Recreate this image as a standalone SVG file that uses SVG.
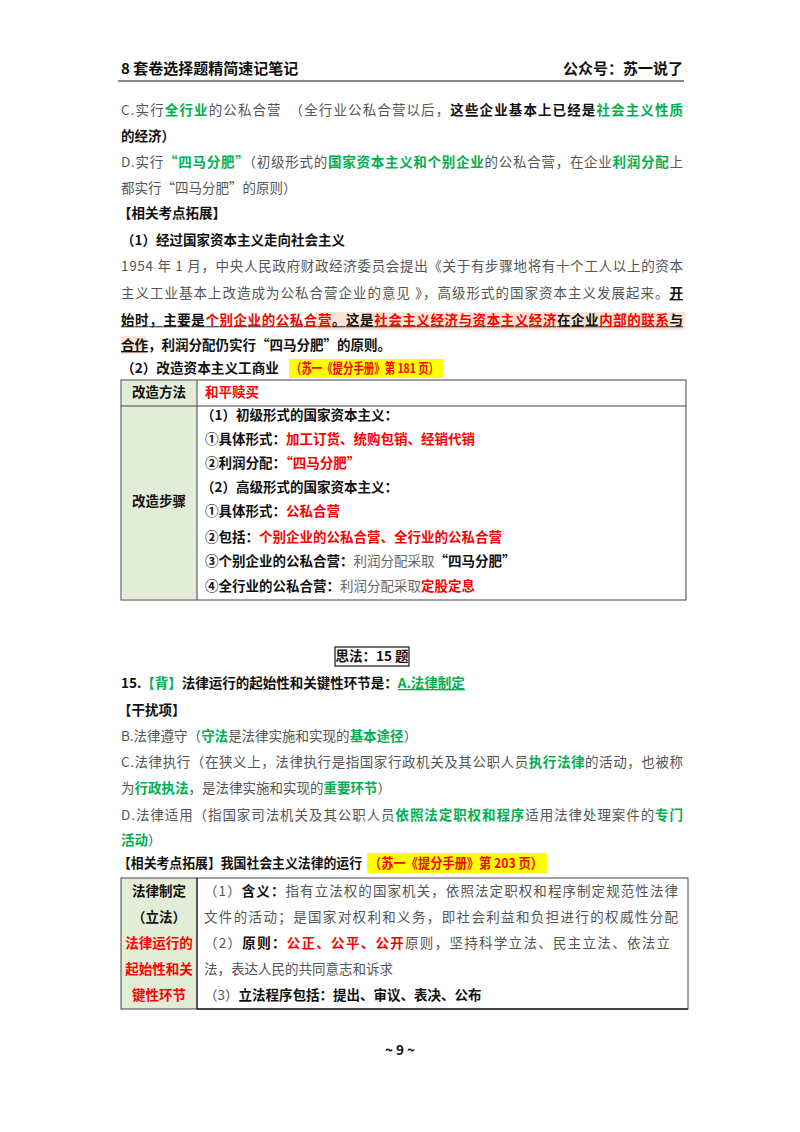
<svg xmlns="http://www.w3.org/2000/svg" width="800" height="1132" viewBox="0 0 800 1132">
<style>
text{font-family:"Noto Sans CJK SC","Liberation Serif",sans-serif;font-size:13.5px;fill:#555}
.b{font-weight:bold;fill:#111}
.g{fill:#00b050;font-weight:bold}
.r{fill:#ff0000;font-weight:bold}
.k{fill:#111;font-weight:bold}
.h{font-size:15px;font-weight:bold;fill:#111}
.ln{stroke:#444;stroke-width:1;fill:none}
</style>
<rect width="800" height="1132" fill="#fff"/>
<g id="header">
<text x="121" y="74" class="h">8 套卷选择题精简速记笔记</text>
<text x="683" y="74" class="h" text-anchor="end">公众号：苏一说了</text>
<line x1="118" y1="81" x2="684" y2="81" stroke="#888" stroke-width="2"/>
</g>
<g id="section1">
<text x="121" y="115" textLength="562" lengthAdjust="spacing">C.实行<tspan class="g">全行业</tspan>的公私合营　（全行业公私合营以后，<tspan class="k">这些企业基本上已经是</tspan><tspan class="g">社会主义性质</tspan></text>
<text x="121" y="141" class="k">的经济）</text>
<text x="121" y="167" textLength="562" lengthAdjust="spacing">D.实行<tspan class="g">“四马分肥”</tspan>（初级形式的<tspan class="g">国家资本主义和个别企业</tspan>的公私合营，在企业<tspan class="g">利润分配</tspan>上</text>
<text x="121" y="193">都实行“四马分肥”的原则）</text>
<text x="118" y="218" class="k">【相关考点拓展】</text>
<text x="121" y="245" class="k">（1）经过国家资本主义走向社会主义</text>
<text x="121" y="271" textLength="562" lengthAdjust="spacing">1954 年 1 月，中央人民政府财政经济委员会提出《关于有步骤地将有十个工人以上的资本</text>
<text x="121" y="298" textLength="562" lengthAdjust="spacing">主义工业基本上改造成为公私合营企业的意见 》，高级形式的国家资本主义发展起来。<tspan class="k" text-decoration="underline">开</tspan></text>
<rect x="316" y="312" width="369" height="18" fill="#fbe4d5"/>
<rect x="121" y="336" width="25" height="18" fill="#fbe4d5"/>
<text x="121" y="325" textLength="562" lengthAdjust="spacing" text-decoration="underline"><tspan class="k">始时，主要是</tspan><tspan class="r">个别企业的公私合营</tspan><tspan class="k">。这是</tspan><tspan class="r">社会主义经济与资本主义经济</tspan><tspan class="k">在企业</tspan><tspan class="r">内部的联系</tspan><tspan class="k">与</tspan></text>
<text x="121" y="350" class="k"><tspan text-decoration="underline">合作</tspan>，利润分配仍实行“四马分肥”的原则。</text>
<text x="121" y="373" class="k" textLength="158" lengthAdjust="spacingAndGlyphs">（2）改造资本主义工商业</text>
<rect x="289" y="359" width="154" height="19" fill="#ffff00"/>
<text x="291" y="373" class="r" textLength="148" lengthAdjust="spacingAndGlyphs">（苏一《提分手册》第 181 页）</text>
</g>
<g id="table1">
<rect x="122" y="398" width="75" height="201" fill="#e2ecd6"/>
<rect x="122" y="381" width="75" height="25" fill="#e2ecd6"/>
<rect x="121" y="380" width="565" height="220" class="ln"/>
<line x1="121" y1="406" x2="686" y2="406" class="ln"/>
<line x1="197" y1="380" x2="197" y2="600" class="ln"/>
<text x="159" y="397" text-anchor="middle" class="k">改造方法</text>
<text x="205" y="397" class="r">和平赎买</text>
<text x="159" y="506" text-anchor="middle" class="k">改造步骤</text>
<text x="201" y="420" class="k">（1）初级形式的国家资本主义：</text>
<text x="205" y="444" class="k">①具体形式：<tspan class="r">加工订货、统购包销、经销代销</tspan></text>
<text x="205" y="468" class="k">②利润分配：<tspan class="r">“四马分肥”</tspan></text>
<text x="201" y="492" class="k">（2）高级形式的国家资本主义：</text>
<text x="205" y="516" class="k">①具体形式：<tspan class="r">公私合营</tspan></text>
<text x="205" y="542" class="k">②包括：<tspan class="r">个别企业的公私合营、全行业的公私合营</tspan></text>
<text x="205" y="566" class="k">③个别企业的公私合营：<tspan fill="#666" font-weight="normal">利润分配采取</tspan>“四马分肥”</text>
<text x="205" y="591" class="k">④全行业的公私合营：<tspan fill="#666" font-weight="normal">利润分配采取</tspan><tspan class="r">定股定息</tspan></text>
</g>
<g id="section2">
<rect x="335" y="647" width="74" height="19" fill="#fff" stroke="#111" stroke-width="1.2"/>
<text x="372" y="661" text-anchor="middle" class="k">思法：15 题</text>
<text x="121" y="688" class="k">15.<tspan class="g">【背】</tspan>法律运行的起始性和关键性环节是：<tspan class="g" text-decoration="underline">A.法律制定</tspan></text>
<text x="118" y="715" class="k">【干扰项】</text>
<text x="121" y="741">B.法律遵守（<tspan class="g">守法</tspan>是法律实施和实现的<tspan class="g">基本途径</tspan>）</text>
<text x="121" y="767" textLength="562" lengthAdjust="spacing">C.法律执行（在狭义上，法律执行是指国家行政机关及其公职人员<tspan class="g">执行法律</tspan>的活动，也被称</text>
<text x="121" y="793">为<tspan class="g">行政执法</tspan>，是法律实施和实现的<tspan class="g">重要环节</tspan>）</text>
<text x="121" y="820" textLength="562" lengthAdjust="spacing">D.法律适用（指国家司法机关及其公职人员<tspan class="g">依照法定职权和程序</tspan>适用法律处理案件的<tspan class="g">专门</tspan></text>
<text x="121" y="845" class="g">活动<tspan fill="#555" font-weight="normal">）</tspan></text>
<text x="118" y="868" class="k" textLength="244" lengthAdjust="spacingAndGlyphs">【相关考点拓展】我国社会主义法律的运行</text>
<rect x="367" y="853" width="180" height="20" fill="#ffff00"/>
<text x="369" y="868" class="r" textLength="174" lengthAdjust="spacingAndGlyphs">（苏一《提分手册》第 203 页）</text>
</g>
<g id="table2">
<rect x="121" y="878" width="76" height="131" fill="#e2ecd6"/>
<rect x="121" y="878" width="567" height="131" class="ln"/>
<line x1="197" y1="878" x2="197" y2="1009" stroke="#222" stroke-width="1.5"/>
<line x1="197" y1="1009" x2="688" y2="1009" stroke="#222" stroke-width="1.5"/>
<text x="159" y="896" text-anchor="middle" class="k">法律制定</text>
<text x="159" y="922" text-anchor="middle" class="k">（立法）</text>
<text x="159" y="948" text-anchor="middle" class="r">法律运行的</text>
<text x="159" y="974" text-anchor="middle" class="r">起始性和关</text>
<text x="159" y="1000" text-anchor="middle" class="r">键性环节</text>
<text x="204" y="896" textLength="474" lengthAdjust="spacing">（1）<tspan class="k">含义：</tspan>指有立法权的国家机关，依照法定职权和程序制定规范性法律</text>
<text x="204" y="922" textLength="474" lengthAdjust="spacing">文件的活动；是国家对权利和义务，即社会利益和负担进行的权威性分配</text>
<text x="204" y="948" textLength="466" lengthAdjust="spacing">（2）<tspan class="k">原则：</tspan><tspan class="r" font-weight="normal">公正、公平、公开</tspan>原则，坚持科学立法、民主立法、依法立</text>
<text x="204" y="974">法，表达人民的共同意志和诉求</text>
<text x="204" y="1000">（3）<tspan class="k">立法程序包括：提出、审议、表决、公布</tspan></text>
</g>
<text x="400" y="1055" text-anchor="middle" class="k" font-family="Liberation Serif">~ 9 ~</text>
</svg>
